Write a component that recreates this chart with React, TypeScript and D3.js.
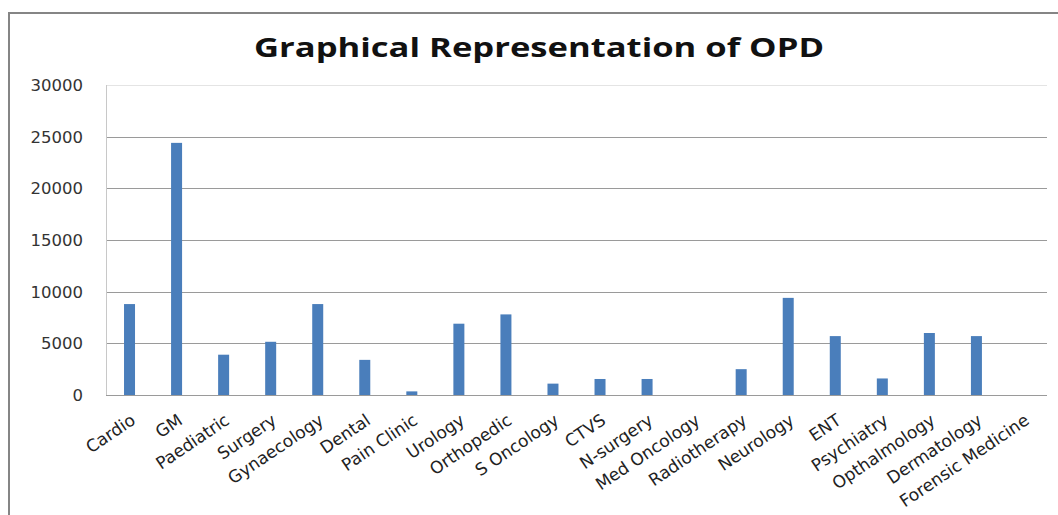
import React, { useEffect, useRef } from "react";
import * as d3 from "d3";

const categories = [
  "Cardio", "GM", "Paediatric", "Surgery", "Gynaecology", "Dental", "Pain Clinic",
  "Urology", "Orthopedic", "S Oncology", "CTVS", "N-surgery", "Med Oncology",
  "Radiotherapy", "Neurology", "ENT", "Psychiatry", "Opthalmology", "Dermatology",
  "Forensic Medicine",
];
const opdValues = [
  8800, 24400, 3900, 5150, 8800, 3400, 350, 6900, 7800, 1100, 1550, 1550, 0,
  2500, 9400, 5700, 1600, 6000, 5700, 0,
];
const yTicks = [0, 5000, 10000, 15000, 20000, 25000, 30000];
const title = "Graphical Representation of OPD";

const W = 1058;
const H = 515;

export default function App() {
  const ref = useRef<SVGSVGElement | null>(null);

  useEffect(() => {
    const svg = d3.select(ref.current);
    svg.selectAll("*").remove();

    const left = 106, right = 1047, top = 85, bottom = 395;
    const x = d3.scaleBand<string>().domain(categories).range([left, right]).paddingInner(0).paddingOuter(0);
    const y = d3.scaleLinear().domain([0, 30000]).range([bottom, top]);

    svg.append("rect").attr("width", W).attr("height", H).attr("fill", "#fff");

    // outer border (top + left visible)
    svg.append("line").attr("x1", 9).attr("x2", W).attr("y1", 13).attr("y2", 13)
      .attr("stroke", "#858585").attr("stroke-width", 2);
    svg.append("line").attr("x1", 9).attr("x2", 9).attr("y1", 12).attr("y2", H)
      .attr("stroke", "#858585").attr("stroke-width", 2);

    svg.append("text")
      .attr("x", 539).attr("y", 57)
      .attr("text-anchor", "middle")
      .attr("font-family", "'Open Sans', 'DejaVu Sans', sans-serif")
      .attr("font-weight", "bold")
      .attr("font-size", 27)
      .attr("textLength", 570)
      .attr("lengthAdjust", "spacingAndGlyphs")
      .attr("fill", "#111")
      .text(title);

    // gridlines
    svg.append("g").selectAll("line").data(yTicks).join("line")
      .attr("x1", left).attr("x2", right)
      .attr("y1", (d) => Math.round(y(d)) + 0.5).attr("y2", (d) => Math.round(y(d)) + 0.5)
      .attr("stroke", (d) => (d === 30000 ? "#e4e4e4" : "#9a9a9a"))
      .attr("stroke-width", 1);

    // y axis line
    svg.append("line").attr("x1", left + 0.5).attr("x2", left + 0.5).attr("y1", top).attr("y2", bottom)
      .attr("stroke", "#c8c8c8");

    // y labels
    svg.append("g").selectAll("text").data(yTicks).join("text")
      .attr("x", 83).attr("y", (d) => y(d) + 6)
      .attr("text-anchor", "end")
      .attr("font-family", "'DejaVu Sans', sans-serif")
      .attr("font-size", 16.5)
      .attr("fill", "#333")
      .text((d) => String(d));

    // bars
    const bw = 11;
    svg.append("g").selectAll("rect").data(categories).join("rect")
      .attr("x", (d) => (x(d) as number) + x.bandwidth() / 2 - bw / 2)
      .attr("width", bw)
      .attr("y", (d, i) => y(opdValues[i]))
      .attr("height", (d, i) => bottom - y(opdValues[i]))
      .attr("fill", "#4a7ebb");

    // x labels
    svg.append("g").selectAll("text").data(categories).join("text")
      .attr("transform", (d) => `translate(${(x(d) as number) + x.bandwidth() / 2 + 7},${423}) rotate(-34)`)
      .attr("text-anchor", "end")
      .attr("font-family", "'DejaVu Sans', sans-serif")
      .attr("font-size", 17)
      .attr("fill", "#222")
      .text((d) => d);
  }, []);

  return (
    <svg
      ref={ref}
      width={W}
      height={H}
      style={{ position: "absolute", left: 0, top: 0, display: "block" }}
    />
  );
}
